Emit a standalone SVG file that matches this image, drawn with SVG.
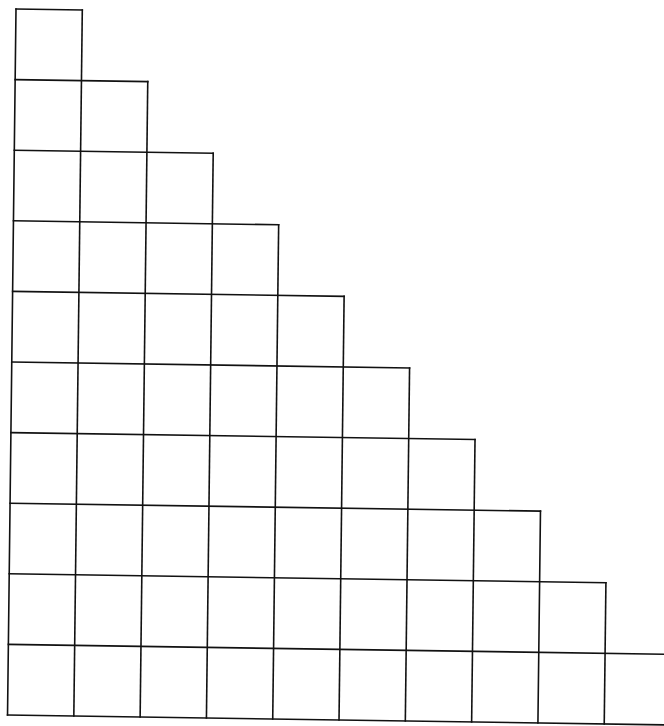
<svg xmlns="http://www.w3.org/2000/svg" width="664" height="726" viewBox="0 0 664 726">
<style>
.g line{stroke:#111;stroke-width:1.6;stroke-linecap:square;fill:none}
</style>
<rect width="664" height="726" fill="#fff"/>
<g id="staircase-grid" class="g" transform="matrix(1 0.015 -0.012 1 16 9)">
<g id="horizontal-lines">
<line x1="0" y1="0" x2="66.3" y2="0"/>
<line x1="0" y1="70.6" x2="132.6" y2="70.6"/>
<line x1="0" y1="141.2" x2="198.9" y2="141.2"/>
<line x1="0" y1="211.8" x2="265.2" y2="211.8"/>
<line x1="0" y1="282.4" x2="331.5" y2="282.4"/>
<line x1="0" y1="353" x2="397.8" y2="353"/>
<line x1="0" y1="423.6" x2="464.1" y2="423.6"/>
<line x1="0" y1="494.2" x2="530.4" y2="494.2"/>
<line x1="0" y1="564.8" x2="596.7" y2="564.8"/>
<line x1="0" y1="635.4" x2="663" y2="635.4"/>
<line x1="0" y1="706" x2="663" y2="706"/>
</g>
<g id="vertical-lines">
<line x1="0" y1="0" x2="0" y2="706"/>
<line x1="66.3" y1="0" x2="66.3" y2="706"/>
<line x1="132.6" y1="70.6" x2="132.6" y2="706"/>
<line x1="198.9" y1="141.2" x2="198.9" y2="706"/>
<line x1="265.2" y1="211.8" x2="265.2" y2="706"/>
<line x1="331.5" y1="282.4" x2="331.5" y2="706"/>
<line x1="397.8" y1="353" x2="397.8" y2="706"/>
<line x1="464.1" y1="423.6" x2="464.1" y2="706"/>
<line x1="530.4" y1="494.2" x2="530.4" y2="706"/>
<line x1="596.7" y1="564.8" x2="596.7" y2="706"/>
</g>
</g>
</svg>
